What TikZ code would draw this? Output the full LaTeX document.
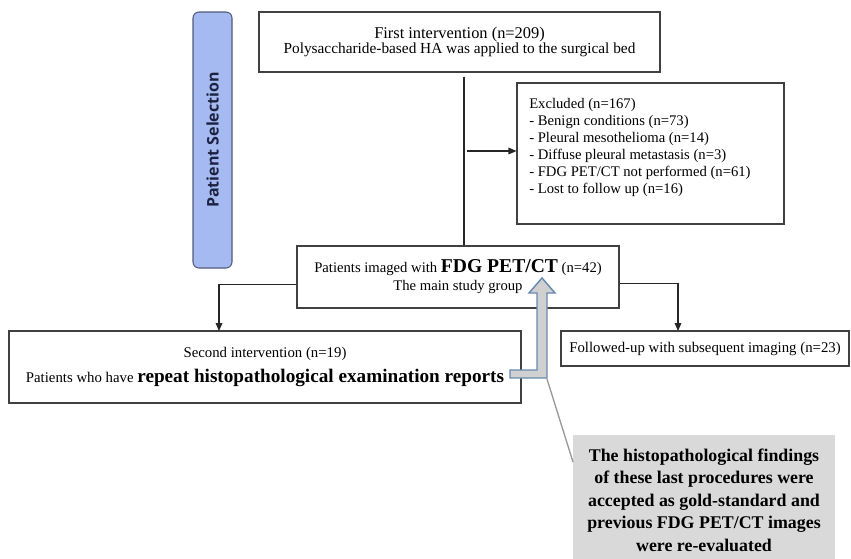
\documentclass[tikz,border=0pt]{standalone}
\usepackage{fontspec}
\setmainfont{Liberation Serif}
\newfontfamily\psfont{Open Sans}
\usetikzlibrary{fit,arrows.meta,calc}
\definecolor{psblue}{RGB}{166,186,242}
\definecolor{psborder}{RGB}{80,92,125}
\definecolor{psfg}{RGB}{28,34,64}
\definecolor{barrow}{RGB}{105,138,175}
\definecolor{bfill}{RGB}{208,208,208}
\definecolor{callfill}{RGB}{217,217,217}
\begin{document}
\begin{tikzpicture}[x=0.75pt,y=-0.75pt,
  box/.style={draw=black!75, line width=0.8pt, inner sep=0pt, fill=white},
  txt/.style={inner sep=0pt, align=center},
  arr/.style={-{Triangle[length=6pt,width=5pt]}, line width=0.8pt, black!85},
  ln/.style={line width=0.8pt, black!85}]
\useasboundingbox (0,0) rectangle (851,558);
% side label
\node[draw=psborder, line width=0.8pt, rounded corners=4.5pt, fill=psblue, inner sep=0pt, fit={(193,12)(232,268)}] (sel) {};
\node[rotate=90, font=\psfont\bfseries\fontsize{12}{14}\selectfont, text=psfg] (seltext) at (sel.center) {Patient Selection};
% boxes
\node[box, fit={(259,12)(660,72)}] (first) {};
\node[txt, font=\fontsize{11.5}{11.5}\selectfont] (firsttext) at (first.center) {{\fontsize{12.3}{11.5}\selectfont First intervention (n=209)}\\Polysaccharide-based HA was applied to the surgical bed};
\node[box, fit={(517,83)(784,224)}] (excl) {};
\node[anchor=north west, align=left, inner sep=0pt, font=\fontsize{11}{12.75}\selectfont] (excltext) at (529,98) {Excluded (n=167)\\- Benign conditions (n=73)\\- Pleural mesothelioma (n=14)\\- Diffuse pleural metastasis (n=3)\\- FDG PET/CT not performed (n=61)\\- Lost to follow up (n=16)};
\node[box, fit={(297,246)(619,308)}] (pat) {};
\node[txt, font=\fontsize{11}{13.5}\selectfont] (pattext) at (pat.center) {Patients imaged with {\bfseries\fontsize{14.7}{16}\selectfont FDG PET/CT} (n=42)\\The main study group};
\node[box, fit={(9,331)(521,403)}] (second) {};
\node[txt, font=\fontsize{11.1}{18.75}\selectfont] (secondtext) at (second.center) {Second intervention (n=19)\\Patients who have {\bfseries\fontsize{14.4}{16}\selectfont repeat histopathological examination reports}};
\node[box, fit={(561,331)(849,366)}] (fol) {};
\node[txt, font=\fontsize{11.1}{13}\selectfont] (foltext) at (fol.center) {Followed-up with subsequent imaging (n=23)};
\node[fill=callfill, inner sep=0pt, fit={(573,435)(835,562)}] (call) {};
\node[txt, font=\bfseries\fontsize{13.4}{16.9}\selectfont] (calltext) at (704,500) {The histopathological findings\\of these last procedures were\\accepted as gold-standard and\\previous FDG PET/CT images\\were re-evaluated};
% connectors
\coordinate (vx) at (464,0);
\draw[ln, shorten <=3pt] (first.south -| vx) -- (pat.north -| vx);
\coordinate (ej) at (467,151);
\draw[arr] (ej) -- (excl.west |- ej);
\coordinate (sa) at (219,331);
\draw[arr] ([yshift=-5.6pt]pat.west) -| (sa);
\coordinate (fa) at (678,331);
\draw[arr] ([yshift=-5pt]pat.east) -| (fa);
% block arrow
\draw[draw=barrow, fill=bfill, line width=1.1pt, line join=miter]
  (510,370) -- (537,370) -- (537,293) -- (529,293) -- (542,278) -- (555,293) -- (547,293) -- (547,378) -- (510,378) -- cycle;
% callout pointer
\coordinate (cl) at (547,379);
\coordinate (cr) at (573,462);
\draw[black!40, line width=1pt] (cl) -- (cr);
\end{tikzpicture}
\end{document}
